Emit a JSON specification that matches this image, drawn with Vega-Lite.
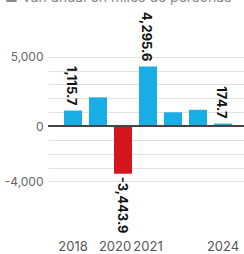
{
  "$schema": "https://vega.github.io/schema/vega-lite/v6.json",
  "width": 200,
  "height": 233,
  "autosize": {"type": "none"},
  "padding": {"left": 48, "top": 3, "right": 0, "bottom": 18},
  "title": {
    "text": "■ Var. anual en miles de personas",
    "anchor": "start",
    "frame": "group",
    "dx": -43,
    "offset": -2,
    "fontSize": 14,
    "fontWeight": "normal",
    "color": "#888",
    "font": "Inter"
  },
  "data": {
    "values": [
      {"year": "2018", "value": 1115.7, "show": true},
      {"year": "2019", "value": 2070, "show": false},
      {"year": "2020", "value": -3443.9, "show": true},
      {"year": "2021", "value": 4295.6, "show": true},
      {"year": "2022", "value": 990, "show": false},
      {"year": "2023", "value": 1170, "show": false},
      {"year": "2024", "value": 174.7, "show": true}
    ]
  },
  "encoding": {
    "x": {
      "field": "year",
      "type": "ordinal",
      "scale": {"paddingInner": 0.28, "paddingOuter": 0.64},
      "axis": {
        "title": null,
        "values": ["2018", "2020", "2021", "2024"],
        "labelAngle": 0,
        "labelOverlap": false,
        "domain": false,
        "ticks": false,
        "labelPadding": 4,
        "labelFontSize": 13,
        "labelColor": "#555",
        "labelFont": "Inter",
        "labelOffset": {"condition": {"test": "datum.value == '2020'", "value": -8}, "value": 0}
      }
    },
    "y": {
      "field": "value",
      "type": "quantitative",
      "scale": {"domain": [-7940, 8880], "nice": false, "zero": false},
      "axis": {
        "title": null,
        "values": [-4000, -3000, -2000, -1000, 0, 1000, 2000, 3000, 4000, 5000],
        "format": ",d",
        "labelExpr": "datum.value == 5000 || datum.value == 0 || datum.value == -4000 ? datum.label : ''",
        "labelOverlap": false,
        "domain": false,
        "ticks": false,
        "gridColor": "#e2e2e2",
        "gridWidth": 1,
        "labelPadding": 5,
        "labelFontSize": 12,
        "labelColor": "#666",
        "labelFont": "Inter"
      }
    }
  },
  "layer": [
    {
      "mark": {"type": "bar"},
      "encoding": {
        "color": {
          "condition": {"test": "datum.value < 0", "value": "#d4161c"},
          "value": "#1aaee6"
        }
      }
    },
    {
      "mark": {"type": "rule", "color": "#444", "strokeWidth": 1.2},
      "encoding": {"y": {"datum": 0, "type": "quantitative"}, "x": {"value": 0}, "x2": {"value": 200}}
    },
    {
      "transform": [{"filter": "datum.show && datum.value > 0"}],
      "mark": {"type": "text", "angle": 90, "align": "right", "baseline": "middle", "dx": -5, "dy": 2, "fontSize": 13, "fontWeight": "bold", "font": "Inter", "color": "#111"},
      "encoding": {
        "text": {"field": "value", "type": "quantitative", "format": ",.1f"}
      }
    },
    {
      "transform": [{"filter": "datum.show && datum.value < 0"}],
      "mark": {"type": "text", "angle": 90, "align": "left", "baseline": "middle", "dx": 3, "dy": 1, "fontSize": 13, "fontWeight": "bold", "font": "Inter", "color": "#111"},
      "encoding": {
        "text": {"field": "value", "type": "quantitative", "format": ",.1f"}
      }
    }
  ],
  "config": {
    "view": {"stroke": null},
    "axisY": {"labelOverlap": false},
    "locale": {"number": {"decimal": ".", "thousands": ",", "grouping": [3], "currency": ["$", ""], "minus": "-"}}
  }
}
